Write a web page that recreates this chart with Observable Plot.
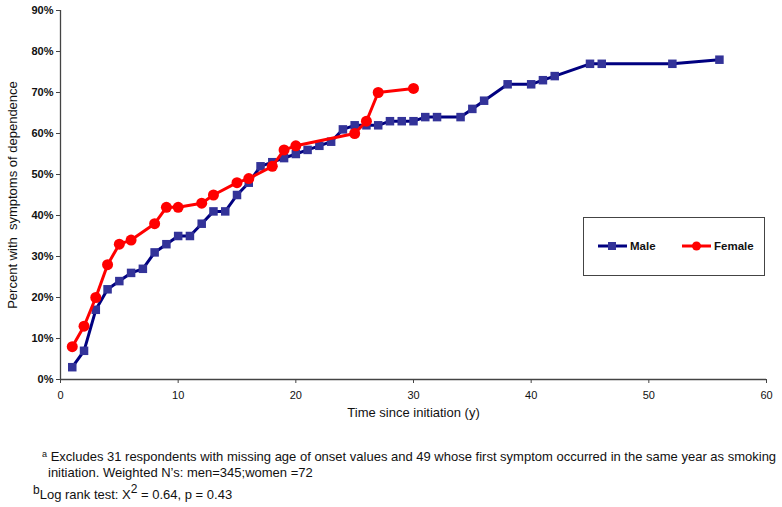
<!DOCTYPE html>
<html>
<head>
<meta charset="utf-8">
<script src="https://cdn.jsdelivr.net/npm/d3@7"></script>
<script src="https://cdn.jsdelivr.net/npm/@observablehq/plot@0.6"></script>
<style>
  html, body { margin: 0; padding: 0; background: #fff; }
  body { width: 782px; height: 507px; position: relative; overflow: hidden; font-family: "Liberation Sans", Arial, sans-serif; color: #111; }
  #chart { position: absolute; left: 0; top: 0; }
  .fn { position: absolute; font-size: 13px; white-space: nowrap; line-height: 16px; }
  .legend { position: absolute; left: 583px; top: 217px; width: 182px; height: 59px; border: 1.5px solid #444; box-sizing: border-box; background: #fff; }
  .legend .item { position: absolute; top: 22px; font-weight: bold; font-size: 11.5px; display: flex; align-items: center; }
  .legend svg { margin-right: 3px; }
</style>
</head>
<body>
<div id="chart"></div>
<div class="legend">
  <div class="item" style="left:14px"><svg width="29" height="12"><line x1="0" x2="29" y1="6" y2="6" stroke="#000080" stroke-width="3"/><rect x="10" y="2" width="8" height="8" fill="#333399"/></svg>Male</div>
  <div class="item" style="left:98px"><svg width="29" height="12"><line x1="0" x2="29" y1="6" y2="6" stroke="#ff0000" stroke-width="3"/><circle cx="14.5" cy="6" r="4.5" fill="#ff0000"/></svg>Female</div>
</div>
<div class="fn" style="left:42px; top:449px;"><span style="font-size:9px; position:relative; top:-4px;">a</span> Excludes 31 respondents with missing age of onset values and 49 whose first symptom occurred in the same year as smoking</div>
<div class="fn" style="left:48px; top:465px;">initiation. Weighted N’s: men=345;women =72</div>
<div class="fn" style="left:33px; top:487px;"><span style="position:relative; top:-5px; font-size:12px;">b</span>Log rank test: X<span style="position:relative; top:-6px; font-size:12px;">2</span> = 0.64, p = 0.43</div>
<script>
const maleTime = [1,2,3,4,5,6,7,8,9,10,11,12,13,14,15,16,17,18,19,20,21,22,23,24,25,26,27,28,29,30,31,32,34,35,36,38,40,41,42,45,46,52,56];
const malePct  = [3,7,17,22,24,26,27,31,33,35,35,38,41,41,45,48,52,53,54,55,56,57,58,61,62,62,62,63,63,63,64,64,64,66,68,72,72,73,74,77,77,77,78];
const femaleTime = [1,2,3,4,5,6,8,9,10,12,13,15,16,18,19,20,25,26,27,30];
const femalePct  = [8,13,20,28,33,34,38,42,42,43,45,48,49,52,56,57,60,63,70,71];
const xTicks = [0,10,20,30,40,50,60];
const yTicks = [0,10,20,30,40,50,60,70,80,90];
const xLabel = "Time since initiation (y)";
const yLabel = "Percent with  symptoms of dependence";

const male = maleTime.map((t,i) => ({t, p: malePct[i]}));
const female = femaleTime.map((t,i) => ({t, p: femalePct[i]}));

const chart = Plot.plot({
  width: 782, height: 425,
  marginLeft: 60, marginRight: 16, marginTop: 10, marginBottom: 46,
  style: {fontFamily: "'Liberation Sans', Arial, sans-serif", fontSize: "11px", color: "#111", background: "#fff"},
  x: {domain: [0, 60]},
  y: {domain: [0, 90]},
  marks: [
    Plot.axisY(yTicks, {tickSize: 4, tickPadding: 3, tickFormat: d => d + "%", fontWeight: "bold", label: null, stroke: "#444"}),
    Plot.axisX(xTicks, {tickSize: 4, tickPadding: 8, label: null, stroke: "#444"}),
    Plot.ruleX([0], {stroke: "#444", strokeWidth: 1.3}),
    Plot.ruleY([0], {stroke: "#444", strokeWidth: 1.3}),
    Plot.text([yLabel], {frameAnchor: "left", textAnchor: "middle", rotate: -90, dx: -48, fontSize: 13, fill: "#111"}),
    Plot.text([xLabel], {frameAnchor: "bottom", dy: 37, fontSize: 13, fill: "#111"}),
    Plot.line(male, {x: "t", y: "p", stroke: "#000080", strokeWidth: 3}),
    Plot.dot(male, {x: "t", y: "p", symbol: "square", r: 4.8, fill: "#333399"}),
    Plot.line(female, {x: "t", y: "p", stroke: "#ff0000", strokeWidth: 3}),
    Plot.dot(female, {x: "t", y: "p", symbol: "circle", r: 5.5, fill: "#ff0000"})
  ]
});
document.getElementById("chart").appendChild(chart);
</script>
</body>
</html>
